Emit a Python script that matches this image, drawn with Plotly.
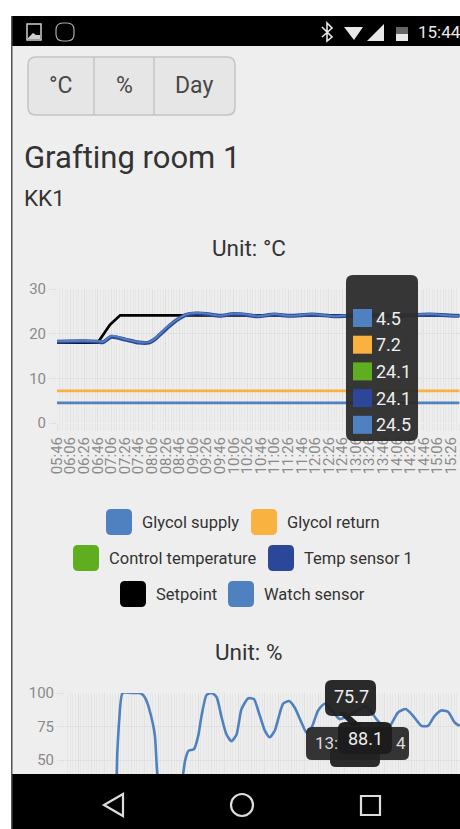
import plotly.graph_objects as go

W, H = 460, 829
FONT = "Roboto"
BG = "#eeeeee"

time_labels = ["05:46","06:06","06:26","06:46","07:06","07:26","07:46","08:06","08:26","08:46",
               "09:06","09:26","09:46","10:06","10:26","10:46","11:06","11:26","11:46","12:06",
               "12:26","12:46","13:06","13:26","13:46","14:06","14:26","14:46","15:06","15:26"]
tick_minutes = [i * 20 for i in range(len(time_labels))]

flat_minutes = [0, 300, 592]
glycol_supply = [4.5, 4.5, 4.5]
glycol_return = [7.2, 7.2, 7.2]

setpoint_minutes = [0, 60, 78, 93, 240, 300, 592]
setpoint = [18.0, 18.0, 22.0, 24.1, 24.1, 24.1, 24.1]

temp_minutes = [0, 40, 60, 68, 80, 100, 120, 135, 145, 160, 175, 190, 205, 220, 240, 260, 280,
                295, 320, 343, 375, 409, 445, 497, 548, 585, 592]
watch_sensor = [18.3, 18.4, 18.3, 18.2, 19.5, 18.8, 18.1, 18.1, 19.0, 21.2, 23.0, 24.3, 24.7,
                24.5, 24.0, 24.5, 24.3, 23.9, 24.4, 24.0, 24.4, 23.9, 24.2, 24.0, 24.4, 24.0, 24.0]
temp_sensor = [18.2, 18.3, 18.2, 18.1, 19.3, 18.7, 18.0, 18.0, 18.9, 21.0, 22.9, 24.2, 24.5,
               24.4, 24.0, 24.4, 24.2, 23.9, 24.3, 24.0, 24.3, 23.9, 24.1, 24.0, 24.3, 24.0, 24.0]
control_temp = [18.2, 18.3, 18.2, 18.1, 19.3, 18.7, 18.0, 18.0, 18.9, 21.0, 22.9, 24.2, 24.5,
                24.4, 24.0, 24.4, 24.2, 23.9, 24.3, 24.0, 24.3, 23.9, 24.1, 24.0, 24.3, 24.0, 24.0]

humidity_minutes = [0, 60, 75, 78.5, 81.5, 86.5, 100, 112, 118, 122.5, 131.5, 135, 138.5, 145, 170, 177.5,
                    180.5, 185.5, 193.5, 200, 205, 212.5, 220, 227.5, 235, 242.5, 250, 257.5, 265,
                    275, 283.5, 292.5, 300, 307.5, 315, 327.5, 336.5, 345, 355, 362.5, 370, 380,
                    390, 402.5, 412.5, 432.5, 452.5, 467.5, 482.5, 490, 500, 511.5, 522.5, 535,
                    545, 555, 565, 575, 585, 592.5]
humidity = [15, 15, 25, 55.5, 80.5, 100, 100, 100, 98, 94, 78, 68, 40, 15, 15, 40,
            50, 57, 58, 68, 83, 98.5, 100, 97, 82, 69, 64, 69, 88,
            96, 95.5, 83, 72, 67, 72, 92, 94, 89, 78, 70.5, 74, 87,
            92, 86, 80.5, 85, 90, 80.5, 73, 77, 85.5, 88, 83, 75.5,
            75.5, 83, 87, 86, 78, 75.5]

legend_names = ["Glycol supply", "Glycol return", "Control temperature", "Temp sensor 1", "Setpoint", "Watch sensor"]
c_supply, c_return, c_control, c_temp, c_set, c_watch = "#4f81c0", "#f9b13f", "#5fae1f", "#2c4699", "#000000", "#4f81c0"
legend_colors = [c_supply, c_return, c_control, c_temp, c_set, c_watch]
legend_swatch_x = [106, 251, 73, 268, 120, 228]
legend_row_y = [522, 522, 558, 558, 594, 594]

tooltip_values = ["4.5", "7.2", "24.1", "24.1", "24.5"]
tooltip_colors = [c_supply, c_return, c_control, c_temp, c_watch]


def px(x):
    return x / W


def py(y):
    return 1 - y / H


def rrect_path(x0, y0, x1, y1, r):
    X0, X1, Y0, Y1 = px(x0), px(x1), py(y0), py(y1)
    rx, ry = r / W, r / H
    return (f"M{X0 + rx},{Y0} L{X1 - rx},{Y0} Q{X1},{Y0} {X1},{Y0 - ry} L{X1},{Y1 + ry} "
            f"Q{X1},{Y1} {X1 - rx},{Y1} L{X0 + rx},{Y1} Q{X0},{Y1} {X0},{Y1 + ry} "
            f"L{X0},{Y0 - ry} Q{X0},{Y0} {X0 + rx},{Y0} Z")


def poly(points, closed=True):
    p = "M" + " L".join(f"{px(x)},{py(y)}" for x, y in points)
    return p + (" Z" if closed else "")


shapes, annos = [], []


def rect(x0, y0, x1, y1, fill, layer="above", line=None, lw=0):
    shapes.append(dict(type="rect", xref="paper", yref="paper", x0=px(x0), x1=px(x1), y0=py(y1), y1=py(y0),
                       fillcolor=fill, layer=layer, line=dict(width=lw, color=line or fill)))


def rrect(x0, y0, x1, y1, r, fill, line=None, lw=0, opacity=1.0, layer="above"):
    shapes.append(dict(type="path", xref="paper", yref="paper", path=rrect_path(x0, y0, x1, y1, r),
                       fillcolor=fill, opacity=opacity, layer=layer, line=dict(width=lw, color=line or fill)))


def path(p, fill="rgba(0,0,0,0)", line="#ffffff", lw=0):
    shapes.append(dict(type="path", xref="paper", yref="paper", path=p, fillcolor=fill, layer="above",
                       line=dict(width=lw, color=line)))


def text(x, y, s, size, color="#333333", anchor="left"):
    annos.append(dict(xref="paper", yref="paper", x=px(x), y=py(y), text=s, showarrow=False,
                      xanchor=anchor, yanchor="middle", borderpad=0, borderwidth=0,
                      font=dict(family=FONT, size=size, color=color)))


# page background and frame
rect(11, 16, W, H, BG, layer="below")

# buttons
rrect(28, 57, 235, 115, 8, "#e6e6e6", line="#c4c4c4", lw=1.5, layer="below")
for xd in (94, 154):
    shapes.append(dict(type="line", xref="paper", yref="paper", x0=px(xd), x1=px(xd), y0=py(57), y1=py(115),
                       layer="below", line=dict(color="#c4c4c4", width=1.5)))
text(61, 85, "°C", 23, "#484848", "center")
text(124, 85, "%", 23, "#484848", "center")
text(194, 85, "Day", 23, "#484848", "center")

# headings
text(24, 157, "Grafting room 1", 31, "#333333")
text(24, 198, "KK1", 22.5, "#333333")
text(248.5, 248, "Unit: °C", 22.5, "#333333", "center")
text(248.5, 652, "Unit: %", 22.5, "#333333", "center")

# legend
for name, col, sx, ry in zip(legend_names, legend_colors, legend_swatch_x, legend_row_y):
    rrect(sx, ry - 13, sx + 26, ry + 13, 5, col, layer="below")
    text(sx + 36, ry, name, 16.5, "#333333")

# tooltip, chart 1
rrect(346, 275, 418, 441, 7, "#2a2a2a", opacity=0.94)
for i, (v, col) in enumerate(zip(tooltip_values, tooltip_colors)):
    yc = 318 + i * 26.7
    rect(353, yc - 9, 372, yc + 9, col)
    text(376, yc, v, 18, "#eeeeee")

# tooltips, chart 2
rrect(306, 727, 409, 760, 6, "#2c2c2c", opacity=0.96)
rrect(330, 740, 380, 767, 6, "#222222", opacity=0.96)
rrect(325, 680, 376, 716, 7, "#1e1e1e", opacity=0.94)
path(poly([(338, 712), (346, 712), (362, 726), (352, 726)]), fill="#222222", line="#222222")
rrect(338, 722, 392, 754, 7, "#1c1c1c", opacity=0.97)
text(315, 743, "13:", 17, "#dddddd")
text(396, 743, "4", 17, "#dddddd")
text(351, 696, "75.7", 18, "#eeeeee", "center")
text(365, 738, "88.1", 18, "#eeeeee", "center")

# status bar and nav bar
rect(11, 16, W, 46, "#000000")
rect(11, 774, W, H, "#000000")
rect(11, 16, 12.5, H, "#555555")
rect(27, 24, 41, 40, "rgba(0,0,0,0)", line="#cfcfcf", lw=1.5)
path(poly([(28, 38), (33, 33), (36, 35), (40, 35), (40, 39), (28, 39)]), fill="#cfcfcf", line="#cfcfcf")
rrect(56, 23, 74, 41, 7, "rgba(0,0,0,0)", line="#aaaaaa", lw=1.2)
path(poly([(322, 27), (332, 37), (327, 41), (327, 23), (332, 28), (322, 37)], closed=False), line="#e8e8e8", lw=1.6)
path(poly([(344, 27), (363, 27), (354, 40)]), fill="#e8e8e8", line="#e8e8e8")
path(poly([(367, 41), (384, 41), (384, 24)]), fill="#e8e8e8", line="#e8e8e8")
rect(396, 27, 408, 41, "#e8e8e8")
rect(396, 27, 408, 34, "#666666")
text(418, 32, "15:44", 17, "#e8e8e8")
path(poly([(123, 794), (104, 805), (123, 816)]), fill="rgba(0,0,0,0)", line="#dddddd", lw=2.2)
shapes.append(dict(type="circle", xref="paper", yref="paper", x0=px(231), x1=px(253), y0=py(816), y1=py(794),
                   layer="above", line=dict(color="#dddddd", width=2.2)))
rect(361, 796, 380, 815, "rgba(0,0,0,0)", line="#dddddd", lw=2.2)

fig = go.Figure()
x1 = dict(xaxis="x", yaxis="y", mode="lines", hoverinfo="skip", cliponaxis=False)
fig.add_trace(go.Scatter(x=flat_minutes, y=glycol_supply, name=legend_names[0], line=dict(color=c_supply, width=2.6), **x1))
fig.add_trace(go.Scatter(x=flat_minutes, y=glycol_return, name=legend_names[1], line=dict(color=c_return, width=2.6), **x1))
fig.add_trace(go.Scatter(x=temp_minutes, y=control_temp, name=legend_names[2], line=dict(color=c_control, width=2, shape="spline", smoothing=0.6), **x1))
fig.add_trace(go.Scatter(x=setpoint_minutes, y=setpoint, name=legend_names[4], line=dict(color=c_set, width=2.6), **x1))
fig.add_trace(go.Scatter(x=temp_minutes, y=temp_sensor, name=legend_names[3], line=dict(color=c_temp, width=4, shape="spline", smoothing=0.6), **x1))
fig.add_trace(go.Scatter(x=temp_minutes, y=watch_sensor, name=legend_names[5], line=dict(color=c_watch, width=2, shape="spline", smoothing=0.6), **x1))
fig.add_trace(go.Scatter(x=humidity_minutes, y=humidity, name="Humidity", xaxis="x2", yaxis="y2", mode="lines",
                         hoverinfo="skip", cliponaxis=False,
                         line=dict(color=c_watch, width=2.6, shape="spline", smoothing=0.6)))

GRID = "#e0e0e0"
MINOR = "#e6e6e6"
TICKC = "#8a8a8a"
common_x = dict(range=[0, 593], tickmode="array", showline=False, zeroline=False, showgrid=True, gridcolor=GRID,
                gridwidth=1, ticks="outside", ticklen=7, tickcolor=GRID,
                minor=dict(dtick=4, tick0=0, showgrid=True, gridcolor=MINOR, gridwidth=1, ticks="outside",
                           ticklen=7, tickcolor=MINOR))
common_y = dict(zeroline=False, showline=False, showgrid=True, gridcolor=GRID, gridwidth=1, ticks="outside",
                ticklen=7, tickcolor=GRID, tickfont=dict(family=FONT, size=15, color=TICKC))

fig.update_layout(
    width=W, height=H, margin=dict(l=0, r=0, t=0, b=0, autoexpand=False),
    paper_bgcolor="#ffffff", plot_bgcolor="rgba(0,0,0,0)", showlegend=False, hovermode=False,
    font=dict(family=FONT),
    shapes=shapes, annotations=annos,
    xaxis=dict(domain=[px(57), 1], tickvals=tick_minutes, ticktext=time_labels, tickangle=-90, anchor="y",
               ticklabeloverflow="allow",
               tickfont=dict(family=FONT, size=15, color=TICKC), **common_x),
    yaxis=dict(domain=[py(423), py(289)], range=[0, 30], tickvals=[0, 10, 20, 30], anchor="x", **common_y),
    xaxis2=dict(domain=[px(65), 1], tickvals=tick_minutes, showticklabels=False, anchor="y2", **common_x),
    yaxis2=dict(domain=[py(827), py(693)], range=[0, 100], tickvals=[0, 25, 50, 75, 100], anchor="x2", **common_y),
)

fig.write_html("out.html", config=dict(displayModeBar=False),
               post_script="document.body.style.margin='0';document.body.style.overflow='hidden';")
